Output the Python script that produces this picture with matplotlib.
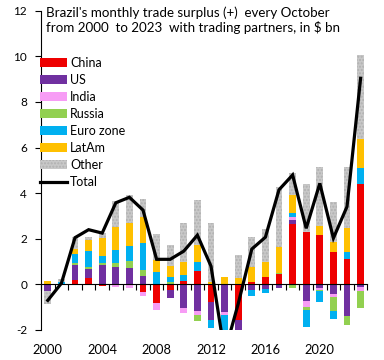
import numpy as np
import matplotlib
matplotlib.use("Agg")
import matplotlib.pyplot as plt
from matplotlib.lines import Line2D

plt.rcParams['font.family'] = ['Lato', 'DejaVu Sans']

# data, $ bn (October of each year)
years = list(range(2000, 2024))
china  = [0, 0, 0.19, 0.29, -0.08, 0, 0, -0.32, -0.83, -0.25, 0.15, 0.59, -0.75, 0, -1.56, 0.12, 0.34, 0.46, 2.65, 2.32, 2.17, 1.44, 1.12, 4.41]
us     = [-0.27, 0, 0.66, 0.38, 0.85, 0.75, 0.70, 0.36, 0, -0.36, -1.05, -1.16, -0.81, -1.19, -0.6, -0.24, -0.21, -0.14, 0.18, -0.71, -0.15, -0.44, -1.38, -0.10]
india  = [0, 0, 0, 0, 0, -0.10, -0.15, -0.19, -0.30, 0, -0.20, -0.18, 0, -0.15, 0, 0, 0, 0, 0.12, -0.26, -0.10, -0.12, 0, -0.17]
russia = [0, 0, 0.07, 0.08, 0.10, 0.17, 0.32, 0.27, 0, 0.10, 0, -0.25, 0, 0, 0, 0, 0, 0.06, -0.17, -0.15, -0.05, -0.59, -0.40, -0.77]
euro   = [0, 0.10, 0.41, 0.71, 0.30, 0.59, 0.66, 1.20, 0.55, 0.22, 0.26, 0.41, -0.37, -0.70, 0, -0.25, -0.18, 0, 0.20, -0.76, -0.45, -0.38, 0.32, 0.70]
latam  = [0.17, 0, 0.22, 0.48, 0.78, 1.02, 1.00, 1.14, 0.52, 0.50, 0.58, 0.72, 0.10, 0.31, 0.30, 0.66, 0.66, 1.11, 0.78, 0, 0.37, 0.44, 1.02, 1.25]
other  = [-0.60, 0.12, 0.52, 0.15, 0.22, 1.14, 1.25, 0.76, 1.13, 0.90, 1.70, 1.98, 2.58, 0, 1.00, 1.29, 1.42, 2.63, 0.97, 2.09, 2.60, 1.72, 2.68, 3.70]
total  = [-0.70, 0.05, 2.05, 2.40, 2.25, 3.58, 3.82, 3.26, 1.10, 1.10, 1.46, 2.16, 0.80, -3.00, -0.85, 1.55, 2.07, 4.15, 4.80, 2.46, 4.43, 2.03, 3.41, 9.04]

series = [("China", china, '#ee0000'),
          ("US", us, '#7030a0'),
          ("India", india, '#f79cf5'),
          ("Russia", russia, '#92d050'),
          ("Euro zone", euro, '#00b0f0'),
          ("LatAm", latam, '#ffc000'),
          ("Other", other, '#c8c8c8')]

fig = plt.figure(figsize=(3.84, 3.60), dpi=100)
ax = fig.add_axes([41/384, 1 - 330/360, 326.4/384, 319.2/360])

x = np.arange(len(years))
pos_bottom = np.zeros(len(years))
neg_bottom = np.zeros(len(years))
handles = []
for name, vals, col in series:
    v = np.array(vals, dtype=float)
    p = np.where(v > 0, v, 0)
    n = np.where(v < 0, v, 0)
    kw = dict(width=0.5, color=col, linewidth=0, zorder=2)
    if name == "Other":
        kw.update(hatch='.....', edgecolor='#b0b0b0')
    b = ax.bar(x, p, bottom=pos_bottom, **kw)
    ax.bar(x, n, bottom=neg_bottom, **kw)
    pos_bottom += p
    neg_bottom += n
    handles.append((b[0], name))

ax.plot(x, total, color='black', linewidth=2.3, zorder=5, solid_joinstyle='miter')

ax.set_xlim(-0.5, len(years) - 0.5)
ax.set_ylim(-2, 12)

# axes look
ax.spines['top'].set_visible(False)
ax.spines['right'].set_visible(False)
ax.spines['bottom'].set_position(('data', 0))
ax.spines['left'].set_linewidth(0.8)
ax.spines['bottom'].set_linewidth(0.8)

yt = np.arange(-2, 13, 2)
ax.set_yticks(yt)
ax.set_yticklabels([str(v) for v in yt], fontsize=8.5)
ax.tick_params(axis='y', direction='out', length=4, width=0.8, pad=6)
ax.set_xticks(np.arange(-0.5, len(years), 1))
ax.set_xticklabels([])
ax.tick_params(axis='x', direction='out', length=4, width=0.8)

# year labels at the bottom
for i, yr in enumerate(years):
    if yr % 4 == 0:
        ax.text(i, -0.062, str(yr), transform=ax.get_xaxis_transform(),
                ha='center', va='center', fontsize=9.3)

leg_handles = [h for h, n in handles] + [Line2D([], [], color='black', linewidth=2.3)]
leg_labels = [n for h, n in handles] + ["Total"]
fig.legend(leg_handles, leg_labels, loc='upper left',
           bbox_to_anchor=(40/384, 1 - 57/360), frameon=False,
           fontsize=9, borderpad=0, borderaxespad=0,
           handlelength=2.15, handleheight=0.75, handletextpad=0.25,
           labelspacing=0.4)

fig.text(46/384, 1 - 6/360,
         "Brazil's monthly trade surplus (+)  every October\nfrom 2000  to 2023  with trading partners, in $ bn",
         ha='left', va='top', fontsize=9.6, linespacing=1.25)

fig.savefig("out.png", dpi=100)
